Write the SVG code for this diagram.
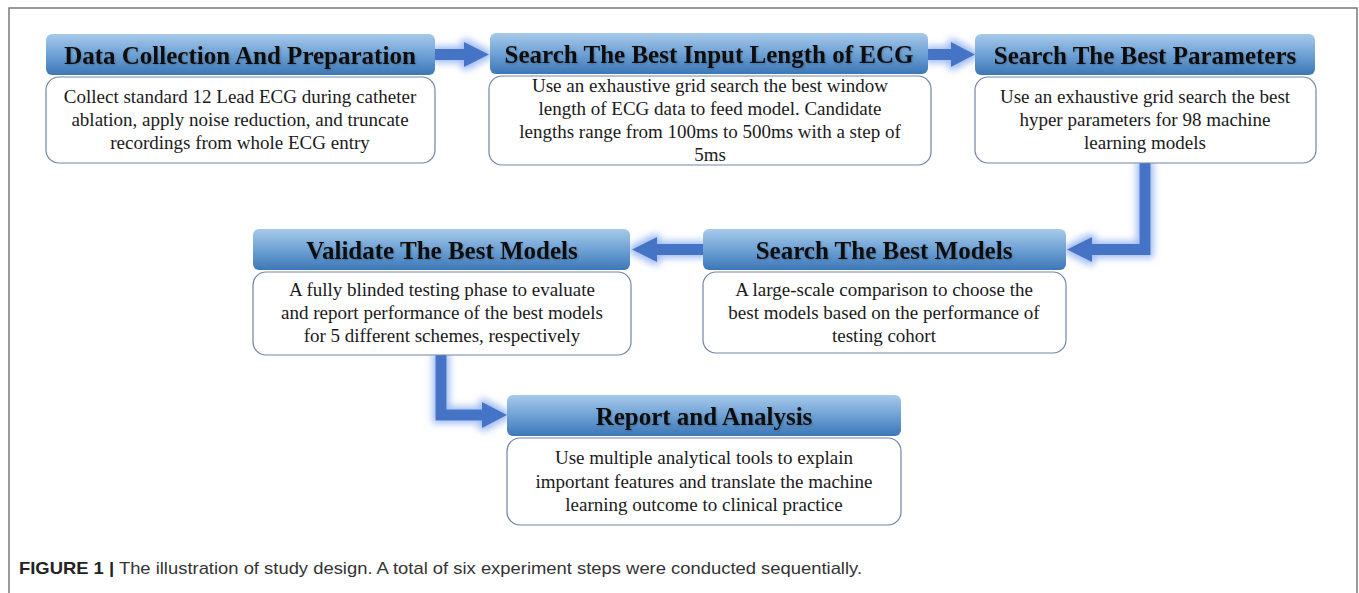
<svg xmlns="http://www.w3.org/2000/svg" width="1359" height="593" viewBox="0 0 1359 593">
  <defs>
    <linearGradient id="hdr" x1="0" y1="0" x2="0" y2="1">
      <stop offset="0" stop-color="#a8c9ea"/>
      <stop offset="0.45" stop-color="#74a6d8"/>
      <stop offset="1" stop-color="#3c77b6"/>
    </linearGradient>
    <filter id="glow" x="-20%" y="-20%" width="140%" height="140%">
      <feMorphology in="SourceAlpha" operator="dilate" radius="3" result="d"/>
      <feGaussianBlur in="d" stdDeviation="3.5" result="b"/>
      <feFlood flood-color="#9ab8f2" flood-opacity="0.95"/>
      <feComposite in2="b" operator="in" result="g"/>
      <feMerge>
        <feMergeNode in="g"/>
        <feMergeNode in="SourceGraphic"/>
      </feMerge>
    </filter>
    <filter id="tshadow" x="-5%" y="-20%" width="110%" height="140%">
      <feGaussianBlur in="SourceAlpha" stdDeviation="1" result="s"/>
      <feOffset in="s" dx="1" dy="1" result="o"/>
      <feComponentTransfer in="o" result="oa">
        <feFuncA type="linear" slope="0.22"/>
      </feComponentTransfer>
      <feMerge>
        <feMergeNode in="oa"/>
        <feMergeNode in="SourceGraphic"/>
      </feMerge>
    </filter>
  </defs>
  <style>
    .frame { fill: none; stroke: #7a7a7a; stroke-width: 1.5; }
    .head { fill: url(#hdr); }
    .body { fill: #ffffff; stroke: #7085a6; stroke-width: 1.2; }
    .title { font-family: "Liberation Serif", "Times New Roman", serif; font-weight: bold; font-size: 25px; fill: #111111; text-anchor: middle; filter: url(#tshadow); }
    .txt { font-family: "Liberation Serif", "Times New Roman", serif; font-size: 19px; fill: #1a1a1a; text-anchor: middle; }
    .shaft { fill: none; stroke: #4573c6; stroke-width: 11; stroke-linejoin: miter; }
    .tip { fill: #4573c6; }
    .cap { font-family: "Liberation Sans", Arial, sans-serif; font-size: 17px; fill: #333333; }
  </style>

  <rect width="1359" height="593" fill="#ffffff"/>
  <!-- figure frame: open at the bottom -->
  <path class="frame" d="M9,593 V8 H1357 V593"/>

  <!-- connectors -->
  <g id="connectors" filter="url(#glow)">
    <path class="shaft" d="M435,54.5 H466"/>
    <polygon class="tip" points="464,42 489,54.5 464,67"/>

    <path class="shaft" d="M928,54.5 H953"/>
    <polygon class="tip" points="951,42 975,54.5 951,67"/>

    <path class="shaft" d="M1145,163 V249.5 H1090"/>
    <polygon class="tip" points="1092,237 1067,249.5 1092,262"/>

    <path class="shaft" d="M703,249.5 H655"/>
    <polygon class="tip" points="657,237 632,249.5 657,262"/>

    <path class="shaft" d="M441,355 V415 H484"/>
    <polygon class="tip" points="482,402 507,415 482,428"/>
  </g>

  <g id="step-data-collection">
    <rect class="head" x="46" y="34" width="389" height="41" rx="6"/>
    <text class="title" x="240" y="64">Data Collection And Preparation</text>
    <rect class="body" x="46" y="77" width="389" height="86" rx="13"/>
    <text class="txt" x="240" y="103">Collect standard 12 Lead ECG during catheter</text>
    <text class="txt" x="240" y="126">ablation, apply noise reduction, and truncate</text>
    <text class="txt" x="240" y="149">recordings from whole ECG entry</text>
  </g>

  <g id="step-input-length">
    <rect class="head" x="490" y="33" width="438" height="41" rx="6"/>
    <text class="title" x="709" y="63">Search The Best Input Length of ECG</text>
    <rect class="body" x="489" y="76" width="442" height="89" rx="13"/>
    <text class="txt" x="710" y="92">Use an exhaustive  grid search the best window</text>
    <text class="txt" x="710" y="115">length of ECG data to feed model. Candidate</text>
    <text class="txt" x="710" y="138">lengths range from 100ms to 500ms with a step of</text>
    <text class="txt" x="710" y="161">5ms</text>
  </g>

  <g id="step-parameters">
    <rect class="head" x="975" y="34" width="340" height="41" rx="6"/>
    <text class="title" x="1145" y="64">Search The Best Parameters</text>
    <rect class="body" x="975" y="77" width="341" height="86" rx="13"/>
    <text class="txt" x="1145" y="103">Use an exhaustive  grid search the best</text>
    <text class="txt" x="1145" y="126">hyper parameters  for 98 machine</text>
    <text class="txt" x="1145" y="149">learning  models</text>
  </g>

  <g id="step-search-models">
    <rect class="head" x="703" y="229" width="363" height="41" rx="6"/>
    <text class="title" x="884" y="259">Search The Best Models</text>
    <rect class="body" x="703" y="272" width="363" height="81" rx="13"/>
    <text class="txt" x="884" y="296">A large-scale  comparison to choose the</text>
    <text class="txt" x="884" y="319">best models based on the  performance of</text>
    <text class="txt" x="884" y="342">testing cohort</text>
  </g>

  <g id="step-validate">
    <rect class="head" x="253" y="229" width="377" height="41" rx="6"/>
    <text class="title" x="442" y="259">Validate The Best Models</text>
    <rect class="body" x="253" y="272" width="378" height="83" rx="13"/>
    <text class="txt" x="442" y="296">A fully  blinded testing  phase to evaluate</text>
    <text class="txt" x="442" y="319">and report performance of the best models</text>
    <text class="txt" x="442" y="342">for 5 different  schemes, respectively</text>
  </g>

  <g id="step-report">
    <rect class="head" x="507" y="395" width="394" height="41" rx="6"/>
    <text class="title" x="704" y="425">Report and Analysis</text>
    <rect class="body" x="507" y="438" width="394" height="87" rx="13"/>
    <text class="txt" x="704" y="464">Use multiple  analytical  tools to explain</text>
    <text class="txt" x="704" y="488">important  features and translate  the machine</text>
    <text class="txt" x="704" y="511">learning  outcome to clinical  practice</text>
  </g>

  <text class="cap" x="19" y="574" textLength="843" lengthAdjust="spacingAndGlyphs"><tspan font-weight="bold" fill="#222222">FIGURE 1 |</tspan> The illustration of study design. A total of six experiment steps were conducted sequentially.</text>
</svg>
